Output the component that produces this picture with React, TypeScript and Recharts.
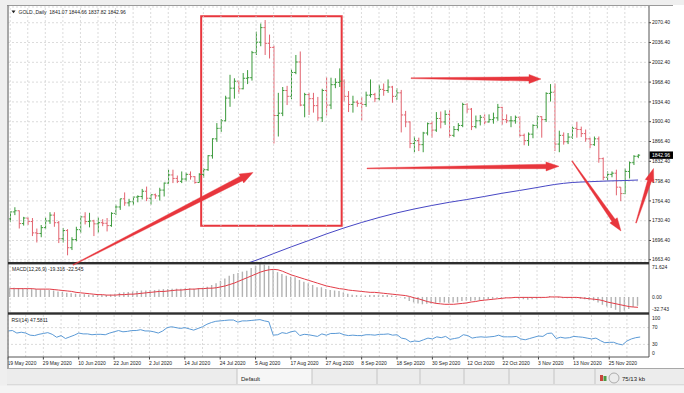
import React from "react";
import {
  ComposedChart,
  Bar,
  Line,
  XAxis,
  YAxis,
  CartesianGrid,
  ReferenceLine,
  ReferenceArea,
} from "recharts";

const FONT = "'Liberation Sans', Arial, sans-serif";
const UP = "#3b9a3b";
const DOWN = "#e2636f";
const GRID = "#d2d2d2";
const RED = "#e8363d";

const MONTHS = ["Jan", "Feb", "Mar", "Apr", "May", "Jun", "Jul", "Aug", "Sep", "Oct", "Nov", "Dec"];

// date labels under the RSI window (one every 8 bars)
const tickLabels = [
  "19 May 2020", "29 May 2020", "10 Jun 2020", "22 Jun 2020", "2 Jul 2020", "14 Jul 2020",
  "24 Jul 2020", "5 Aug 2020", "17 Aug 2020", "27 Aug 2020", "8 Sep 2020", "18 Sep 2020",
  "30 Sep 2020", "12 Oct 2020", "22 Oct 2020", "3 Nov 2020", "13 Nov 2020", "25 Nov 2020",
];

const priceTicks = [2070.4, 2036.4, 2002.4, 1968.4, 1934.4, 1900.4, 1866.4, 1832.4, 1798.4, 1764.4, 1730.4, 1696.4, 1663.4];
const macdTicks = [71.624, 0, -32.743];
const rsiTicks = [100, 70, 30, 0];

// daily bars, open / high / low / close, 19 May 2020 .. 4 Dec 2020
const ohlc: [number, number, number, number][] = [
  [1733.5, 1746, 1728, 1745.5], [1745.5, 1753.5, 1740, 1747.5], [1747.5, 1748, 1717, 1725.5], [1725.5, 1737, 1722, 1735],
  [1735, 1736, 1723, 1729], [1729, 1735, 1704, 1709.5], [1709.5, 1717, 1693, 1708.5], [1708.5, 1723, 1702, 1718.5],
  [1718.5, 1736, 1716, 1730], [1730, 1745, 1725, 1740], [1740, 1745, 1720, 1727], [1727, 1730, 1692, 1699.5],
  [1699.5, 1718, 1693, 1713.5], [1713.5, 1716, 1671, 1684], [1684, 1702, 1680, 1698], [1698, 1720, 1695, 1715],
  [1715, 1739, 1709, 1737], [1737, 1745, 1724, 1729], [1729, 1744, 1719, 1730], [1730, 1732, 1704, 1725],
  [1725, 1736, 1710, 1727], [1727, 1733, 1721, 1726], [1726, 1735, 1712, 1722], [1722, 1745, 1720, 1743],
  [1743, 1758, 1740, 1754], [1754, 1768, 1749, 1768], [1768, 1779, 1756, 1761], [1761, 1768, 1755, 1763],
  [1763, 1772, 1757, 1771], [1771, 1774, 1762, 1772], [1772, 1785, 1767, 1781], [1781, 1789, 1764, 1769],
  [1769, 1775, 1758, 1775], [1775, 1777, 1768, 1773], [1773, 1787, 1765, 1783], [1783, 1796, 1772, 1795],
  [1795, 1818, 1794, 1809], [1809, 1818, 1795, 1803], [1803, 1808, 1795, 1798], [1798, 1815, 1795, 1802],
  [1802, 1813, 1798, 1810], [1810, 1815, 1801, 1806], [1806, 1807, 1794, 1796], [1796, 1812, 1796, 1810],
  [1810, 1821, 1804, 1818], [1818, 1843, 1816, 1842], [1842, 1872, 1837, 1871], [1871, 1898, 1866, 1889],
  [1889, 1905, 1883, 1902], [1902, 1945, 1901, 1941], [1941, 1981, 1926, 1958], [1958, 1975, 1940, 1970],
  [1970, 1971, 1948, 1957], [1957, 1984, 1956, 1975], [1975, 1989, 1965, 1976], [1976, 2022, 1971, 2019],
  [2019, 2055, 2015, 2037], [2037, 2069, 2030, 2062], [2062, 2075, 2015, 2035], [2035, 2050, 2009, 2028],
  [2028, 2031, 1863, 1911], [1911, 1950, 1875, 1915], [1915, 1960, 1910, 1954], [1954, 1962, 1929, 1944],
  [1944, 1990, 1939, 1985], [1985, 2015, 1982, 2003], [2003, 2021, 1927, 1929], [1929, 1950, 1908, 1947],
  [1947, 1950, 1912, 1940], [1940, 1950, 1916, 1928], [1928, 1943, 1902, 1907], [1907, 1957, 1900, 1954],
  [1954, 1977, 1911, 1929], [1929, 1976, 1922, 1964], [1964, 1975, 1958, 1968], [1968, 1992, 1960, 1970],
  [1970, 1973, 1935, 1944], [1944, 1953, 1917, 1930], [1930, 1945, 1916, 1934], [1934, 1937, 1926, 1932],
  [1932, 1943, 1902, 1930], [1930, 1952, 1926, 1946], [1946, 1973, 1942, 1947], [1947, 1950, 1934, 1940],
  [1940, 1964, 1937, 1956], [1956, 1966, 1945, 1954], [1954, 1973, 1950, 1960], [1960, 1962, 1933, 1944],
  [1944, 1958, 1938, 1950], [1950, 1955, 1882, 1912], [1912, 1919, 1891, 1900], [1900, 1901, 1855, 1863],
  [1863, 1875, 1848, 1868], [1868, 1873, 1850, 1861], [1861, 1883, 1848, 1881], [1881, 1899, 1877, 1897],
  [1897, 1901, 1873, 1886], [1886, 1917, 1883, 1906], [1906, 1918, 1889, 1900], [1900, 1920, 1895, 1913],
  [1913, 1920, 1873, 1877], [1877, 1893, 1874, 1887], [1887, 1898, 1884, 1894], [1894, 1933, 1891, 1930],
  [1930, 1932, 1915, 1922], [1922, 1924, 1886, 1892], [1892, 1911, 1889, 1902], [1902, 1912, 1894, 1908],
  [1908, 1913, 1896, 1900], [1900, 1913, 1899, 1904], [1904, 1916, 1897, 1907], [1907, 1931, 1902, 1925],
  [1925, 1926, 1895, 1904], [1904, 1913, 1898, 1902], [1902, 1910, 1891, 1902], [1902, 1911, 1897, 1908],
  [1908, 1910, 1874, 1877], [1877, 1880, 1860, 1868], [1868, 1882, 1859, 1879], [1879, 1896, 1872, 1894],
  [1894, 1911, 1889, 1909], [1909, 1910, 1873, 1904], [1904, 1951, 1900, 1949], [1949, 1965, 1935, 1951],
  [1951, 1966, 1850, 1862], [1862, 1885, 1848, 1877], [1877, 1882, 1861, 1866], [1866, 1881, 1862, 1874],
  [1874, 1892, 1871, 1889], [1889, 1900, 1873, 1887], [1887, 1892, 1874, 1880], [1880, 1887, 1866, 1871],
  [1871, 1873, 1855, 1861], [1861, 1875, 1859, 1871], [1871, 1875, 1830, 1837], [1837, 1839, 1800, 1805],
  [1805, 1815, 1799, 1810], [1810, 1815, 1805, 1812], [1812, 1818, 1774, 1788], [1788, 1788, 1764, 1777],
  [1777, 1820, 1776, 1815], [1815, 1832, 1803, 1830], [1830, 1843, 1826, 1841], [1841.07, 1844.66, 1837.82, 1842.96],
];

// blue moving average, read at (bar index, price)
const smaPoints: [number, number][] = [
  [52, 1653], [56, 1662.4], [60, 1674], [64, 1685.5], [68, 1696.4], [72, 1707.6], [76, 1717.9],
  [80, 1727.3], [84, 1735.9], [88, 1743.7], [92, 1750.5], [96, 1756.5], [100, 1762], [104, 1766.8],
  [108, 1772], [112, 1777.5], [116, 1782.3], [120, 1787.4], [124, 1792.6], [128, 1796], [132, 1797.4],
  [136, 1798.6], [140, 1799.4], [143, 1800.3],
];

const macdMain = [
  20, 20, 19, 19, 18, 17, 17, 16,
  16, 15, 14, 12, 11, 9, 8, 7,
  6, 6, 5, 5, 5, 4, 4, 5,
  7, 9, 10, 11, 12, 13, 14, 14,
  15, 15, 16, 17, 17, 18, 18, 18,
  19, 19, 18, 19, 20, 22, 26, 30,
  35, 40, 46, 50, 52, 55, 57, 63,
  68, 71.624, 70, 68, 60, 54, 50, 46,
  44, 43, 37, 33, 30, 26, 21, 21,
  17, 15, 14, 13, 10, 7, 5, 4,
  3, 3, 4, 4, 4, 4, 4, 3,
  2, -1, -4, -9, -12, -14, -16, -15,
  -15, -13, -12, -12, -13, -12, -12, -9,
  -8, -9, -8, -7, -6, -5, -4, -2,
  -2, -2, -2, -2, -4, -5, -6, -5,
  -4, -3, 0, 2, -1, -2, -3, -3,
  -3, -3, -4, -5, -7, -8, -12, -17,
  -21, -24, -28, -32.743, -30, -26, -22, -19.316,
];

const macdSignal = [
  18, 18, 18, 18, 18, 18, 17, 17,
  17, 17, 16, 15, 14, 13, 12, 10,
  9, 8, 7, 6, 5, 5, 4, 4,
  4, 5, 5, 6, 6, 7, 8, 9,
  10, 11, 12, 12, 13, 14, 15, 15,
  16, 17, 17, 18, 18, 19, 19, 20,
  22, 24, 27, 30, 34, 38, 42, 46,
  50, 54, 57, 59, 60, 59, 56, 52,
  48, 45, 42, 39, 36, 33, 30, 27,
  24, 22, 20, 18, 17, 15, 14, 13,
  12, 11, 10, 10, 9, 8, 7, 6,
  5, 4, 3, 1, -2, -4, -7, -10,
  -12, -14, -15, -16, -16, -16, -15, -14,
  -13, -11, -10, -8, -7, -6, -5, -4,
  -3, -2, -2, -1, -1, -1, -1, -1,
  -1, -1, -1, 0, 0, 0, -1, -1,
  -1, -1, -2, -3, -4, -5, -6, -8,
  -11, -13, -15, -17, -19, -21, -22, -22.545,
];

const rsi = [
  62, 63, 57, 59, 57, 52, 51, 54, 56, 58,
  54, 47, 51, 44, 48, 52, 57, 55, 55, 53,
  54, 54, 53, 57, 60, 63, 60, 61, 63, 63,
  65, 62, 62, 60, 57, 62, 70, 72, 70, 68,
  70, 67, 64, 68, 72, 78, 82, 85, 86, 87,
  88, 88, 83, 86, 86, 87, 88, 89, 86, 84,
  52, 53, 58, 56, 60, 62, 51, 54, 53, 51,
  49, 55, 52, 56, 56, 57, 53, 51, 52, 51,
  51, 53, 53, 52, 54, 54, 55, 52, 53, 45,
  43, 36, 38, 37, 41, 45, 43, 48, 46, 49,
  42, 44, 46, 53, 51, 45, 47, 48, 47, 48,
  49, 52, 48, 48, 48, 49, 43, 41, 44, 47,
  50, 49, 56, 57, 44, 47, 45, 46, 49, 48,
  47, 45, 43, 45, 39, 34, 35, 35, 31, 29,
  38, 43, 46, 47.5811,
];

// hand-drawn annotations on the screenshot (page pixels)
const arrows = [
  { from: [73, 265], to: [253, 172.5], w0: 0.8, w1: 5, hl: 13, hw: 10 },
  { from: [411, 78.2], to: [541, 79], w0: 0.8, w1: 4.2, hl: 12, hw: 9 },
  { from: [367, 168.4], to: [559, 166.3], w0: 0.8, w1: 4.5, hl: 13, hw: 9 },
  { from: [572, 161], to: [621, 231], w0: 0.8, w1: 4, hl: 13, hw: 9 },
  { from: [636, 223], to: [653.5, 168.5], w0: 0.8, w1: 4, hl: 13, hw: 9 },
];

function tradingDays(n: number) {
  const out: string[] = [];
  const d = new Date(Date.UTC(2020, 4, 19));
  while (out.length < n) {
    const wd = d.getUTCDay();
    if (wd !== 0 && wd !== 6) out.push(`${d.getUTCDate()} ${MONTHS[d.getUTCMonth()]} ${d.getUTCFullYear()}`);
    d.setUTCDate(d.getUTCDate() + 1);
  }
  return out;
}

const days = tradingDays(ohlc.length);
const smaByBar = new Map(smaPoints);

const rows: any[] = days.map((d, i) => {
  const [o, h, l, c] = ohlc[i];
  return {
    d,
    o, h, l, c,
    range: [l, h],
    sma: smaByBar.has(i) ? smaByBar.get(i) : null,
    macd: macdMain[i],
    sig: macdSignal[i],
    rsi: rsi[i],
  };
});
// empty slots at the right edge, like the terminal's chart shift
rows.push({ d: "pad1" }, { d: "pad2" });

const gridDays = days.filter((_, i) => i % 4 === 0);
const labelSet = new Set(tickLabels);
const last = ohlc[ohlc.length - 1];

const W = 684;
const AXIS_W = 35;
const M = { top: 0, right: 0, bottom: 0, left: 8 };

const OhlcBar = (props: any) => {
  const { x, y, width, height, payload } = props;
  if (!payload || payload.o == null) return <g />;
  const top = Math.min(y, y + height);
  const bot = Math.max(y, y + height);
  const span = payload.h - payload.l || 1;
  const py = (v: number) => top + ((payload.h - v) / span) * (bot - top);
  const cx = x + width / 2;
  const col = payload.c >= payload.o ? UP : DOWN;
  return (
    <g stroke={col} strokeWidth={1}>
      <line x1={cx} x2={cx} y1={top} y2={bot} />
      <line x1={cx - 1.8} x2={cx} y1={py(payload.o)} y2={py(payload.o)} />
      <line x1={cx} x2={cx + 1.8} y1={py(payload.c)} y2={py(payload.c)} />
    </g>
  );
};

const PriceTick = (p: any) => (
  <g>
    <line x1={p.x} x2={p.x + 2} y1={p.y} y2={p.y} stroke="#444" />
    <text x={p.x + 3} y={p.y} dy="0.35em" fontSize={5} fill="#222" fontFamily={FONT}>
      {Number(p.payload.value).toFixed(2)}
    </text>
  </g>
);

const MacdTick = (p: any) => {
  const v = p.payload.value;
  const nudge = v === macdTicks[0] ? 3.2 : v === macdTicks[2] ? -2.8 : 0;
  return (
    <text x={p.x + 3} y={p.y + nudge} dy="0.35em" fontSize={5} fill="#222" fontFamily={FONT}>
      {v === 0 ? "0.00" : String(v)}
    </text>
  );
};

const RsiTick = (p: any) => {
  const v = p.payload.value;
  const nudge = v === 100 ? 3.1 : v === 0 ? -3.4 : 0;
  return (
    <text x={p.x + 3} y={p.y + nudge} dy="0.35em" fontSize={5} fill="#222" fontFamily={FONT}>
      {v}
    </text>
  );
};

const DateTick = (p: any) => {
  const v = p.payload.value;
  if (!labelSet.has(v)) return <g />;
  return (
    <g>
      <line x1={p.x} x2={p.x} y1={p.y} y2={p.y + 2.5} stroke="#444" />
      <text x={p.x - 0.5} y={p.y + 8} fontSize={5} fill="#222" fontFamily={FONT}>
        {v}
      </text>
    </g>
  );
};

const PriceBox = (props: any) => {
  const vb = props.viewBox || {};
  const x = vb.x + vb.width;
  const y = vb.y;
  return (
    <g>
      <rect x={x + 0.5} y={y - 3.7} width={23.5} height={7.4} fill="#000" />
      <text x={x + 3} y={y} dy="0.35em" fontSize={5} fill="#fff" fontFamily={FONT}>
        {last[3].toFixed(2)}
      </text>
    </g>
  );
};

const vGrid = (id?: string) =>
  gridDays.map((d) => (
    <ReferenceLine key={`g${id}${d}`} x={d} stroke={GRID} strokeDasharray="2 2" strokeWidth={0.8} />
  ));

function arrowPoints(a: (typeof arrows)[number]) {
  const [x1, y1] = a.from;
  const [x2, y2] = a.to;
  const L = Math.hypot(x2 - x1, y2 - y1);
  const ux = (x2 - x1) / L;
  const uy = (y2 - y1) / L;
  const nx = -uy;
  const ny = ux;
  const bx = x2 - ux * a.hl;
  const by = y2 - uy * a.hl;
  const pts = [
    [x1 + (nx * a.w0) / 2, y1 + (ny * a.w0) / 2],
    [bx + (nx * a.w1) / 2, by + (ny * a.w1) / 2],
    [bx + (nx * a.hw) / 2, by + (ny * a.hw) / 2],
    [x2, y2],
    [bx - (nx * a.hw) / 2, by - (ny * a.hw) / 2],
    [bx - (nx * a.w1) / 2, by - (ny * a.w1) / 2],
    [x1 - (nx * a.w0) / 2, y1 - (ny * a.w0) / 2],
  ];
  return pts.map((p) => p.join(",")).join(" ");
}

const tabSeps = [237, 312, 377, 420, 464, 509, 554, 595];

export default function App() {
  const title = `GOLD.,Daily  ${last.map((v) => v.toFixed(2)).join(" ")}`;
  return (
    <div style={{ position: "absolute", left: 0, top: 0, width: W, height: 393, background: "#fff", overflow: "hidden" }}>
      {/* price window */}
      <div style={{ position: "absolute", left: 0, top: 0 }}>
        <ComposedChart width={W} height={263} data={rows} margin={{ ...M, top: 7, bottom: 1 }}>
          <CartesianGrid vertical={false} stroke={GRID} strokeDasharray="2 2" strokeWidth={0.8} />
          {vGrid("p")}
          <XAxis dataKey="d" hide />
          <YAxis
            orientation="right"
            width={AXIS_W}
            type="number"
            domain={[1659.5, 2097.4]}
            ticks={priceTicks}
            interval={0}
            allowDataOverflow
            axisLine={false}
            tickLine={false}
            tickSize={0}
            tickMargin={0}
            tick={<PriceTick />}
          />
          <ReferenceLine y={last[3]} stroke="none" label={<PriceBox />} />
          <Bar dataKey="range" barSize={3} shape={<OhlcBar />} isAnimationActive={false} />
          <Line
            dataKey="sma"
            type="monotone"
            connectNulls
            stroke="#4747c4"
            strokeWidth={1}
            dot={false}
            activeDot={false}
            isAnimationActive={false}
          />
          <ReferenceArea
            x1={days[44]}
            x2={days[75]}
            y1={1721.8}
            y2={2081.4}
            fill="none"
            fillOpacity={0}
            stroke={RED}
            strokeWidth={2}
            ifOverflow="visible"
          />
        </ComposedChart>
      </div>

      {/* MACD window */}
      <div style={{ position: "absolute", left: 0, top: 264 }}>
        <ComposedChart width={W} height={48} data={rows} margin={M}>
          {vGrid("m")}
          <XAxis dataKey="d" hide />
          <YAxis
            orientation="right"
            width={AXIS_W}
            type="number"
            domain={[-32.743, 71.624]}
            ticks={macdTicks}
            interval={0}
            allowDataOverflow
            axisLine={false}
            tickLine={false}
            tickSize={0}
            tickMargin={0}
            tick={<MacdTick />}
          />
          <Bar dataKey="macd" fill="#b3b3b3" barSize={1.4} isAnimationActive={false} />
          <Line
            dataKey="sig"
            type="linear"
            stroke="#e23b46"
            strokeWidth={1}
            dot={false}
            activeDot={false}
            isAnimationActive={false}
          />
        </ComposedChart>
      </div>

      {/* RSI window with the date axis */}
      <div style={{ position: "absolute", left: 0, top: 315 }}>
        <ComposedChart width={W} height={58} data={rows} margin={M}>
          {vGrid("r")}
          <ReferenceLine y={70} stroke={GRID} strokeDasharray="2 2" strokeWidth={0.8} />
          <ReferenceLine y={30} stroke={GRID} strokeDasharray="2 2" strokeWidth={0.8} />
          <XAxis
            dataKey="d"
            height={16}
            ticks={tickLabels}
            interval={0}
            axisLine={false}
            tickLine={false}
            tickSize={0}
            tickMargin={0}
            tick={<DateTick />}
          />
          <YAxis
            orientation="right"
            width={AXIS_W}
            type="number"
            domain={[0, 100]}
            ticks={rsiTicks}
            interval={0}
            axisLine={false}
            tickLine={false}
            tickSize={0}
            tickMargin={0}
            tick={<RsiTick />}
          />
          <Line
            dataKey="rsi"
            type="linear"
            stroke="#5b9ad6"
            strokeWidth={1}
            dot={false}
            activeDot={false}
            isAnimationActive={false}
          />
        </ComposedChart>
      </div>

      {/* terminal frame, labels and the drawn annotations */}
      <svg width={W} height={393} style={{ position: "absolute", left: 0, top: 0, pointerEvents: "none" }}>
        <rect x={0} y={0} width={W} height={5} fill="#efefef" />
        <rect x={0} y={0} width={7} height={393} fill="#efefef" />
        <line x1={7} x2={673} y1={5.5} y2={5.5} stroke="#9a9a9a" strokeWidth={1.2} />
        <line x1={8} x2={8} y1={5} y2={368} stroke="#8a8a8a" strokeWidth={1.5} />
        <line x1={649} x2={649} y1={6} y2={357} stroke="#555" strokeWidth={1} />
        <rect x={8} y={262} width={641} height={2.4} fill="#2e2e2e" />
        <rect x={8} y={312.3} width={641} height={2.4} fill="#2e2e2e" />
        <line x1={8} x2={649} y1={357} y2={357} stroke="#555" strokeWidth={1} />

        {/* bottom tab bar */}
        <rect x={7} y={368} width={677} height={17} fill="#ececec" />
        <line x1={7} x2={684} y1={368.5} y2={368.5} stroke="#a8a8a8" strokeWidth={1} />
        <rect x={237} y={369} width={75} height={15} fill="#f6f6f6" />
        {tabSeps.map((x) => (
          <line key={x} x1={x} x2={x} y1={369} y2={384} stroke="#c4c4c4" strokeWidth={1} />
        ))}
        <text x={241} y={380.5} fontSize={6} fill="#222" fontFamily={FONT}>
          Default
        </text>
        <line x1={7} x2={684} y1={385} y2={385} stroke="#c8c8c8" strokeWidth={1} />
        <rect x={0} y={385.5} width={W} height={8} fill="#f4f4f4" />
        <rect x={600} y={375} width={3} height={6} fill="#c8463c" />
        <rect x={603.5} y={376} width={3} height={5} fill="#4f9a45" />
        <circle cx={614} cy={378} r={5} fill="none" stroke="#9a9a9a" strokeWidth={0.8} />
        <text x={622} y={380.5} fontSize={6} fill="#222" fontFamily={FONT}>
          75/13 kb
        </text>

        {/* window captions */}
        <polygon points="11.5,10.5 15.5,10.5 13.5,13.2" fill="#222" />
        <text x={18.5} y={13.8} fontSize={5} fill="#222" fontFamily={FONT} style={{ whiteSpace: "pre" }}>
          {title}
        </text>
        <text x={12} y={270.8} fontSize={5} fill="#222" fontFamily={FONT}>
          {`MACD(12,26,9) ${macdMain[macdMain.length - 1]} ${macdSignal[macdSignal.length - 1]}`}
        </text>
        <text x={11.5} y={321.6} fontSize={5} fill="#222" fontFamily={FONT}>
          {`RSI(14) ${rsi[rsi.length - 1]}`}
        </text>

        {arrows.map((a, i) => (
          <polygon key={i} points={arrowPoints(a)} fill={RED} stroke={RED} strokeWidth={0.4} strokeLinejoin="round" />
        ))}
      </svg>
    </div>
  );
}
